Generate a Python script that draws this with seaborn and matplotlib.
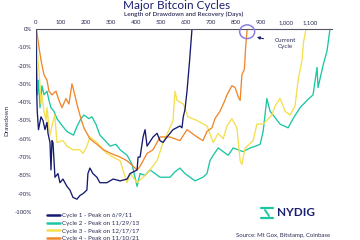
import matplotlib
matplotlib.use("Agg")
import matplotlib.pyplot as plt
import seaborn as sns
import pandas as pd
from matplotlib.lines import Line2D
from matplotlib.patches import Ellipse

# ---- data ----
c1_days = [0, 2, 5, 10, 20, 28, 36, 44, 48, 56, 60, 64, 68, 76, 88, 96, 108, 124, 136, 148, 164, 176,
           188, 204, 208, 216, 228, 244, 256, 284, 309, 337, 365, 377, 405, 409, 417, 429, 437, 445,
           469, 485, 497, 509, 525, 549, 577, 585, 590, 597, 605, 615, 625]
c1_dd = [0, -30, -45, -55, -48, -50, -55, -51, -57, -62, -77, -61, -62, -81, -79, -84, -82, -86, -88, -92, -93, -91,
         -90, -88, -79, -76, -79, -81, -84, -84, -82, -83, -82, -79, -77, -70, -70, -59, -55, -64,
         -59, -57, -61, -62, -59, -55, -53, -54, -48, -44, -34, -18, 0]

c2_days = [0, 3, 6, 10, 16, 24, 32, 44, 52, 60, 72, 84, 100, 112, 124, 150, 165, 180, 192, 212, 224, 240,
           256, 270, 297, 320, 337, 365, 385, 405, 417, 437, 457, 477, 497, 537, 557, 577, 597, 617, 637,
           669, 685, 697, 710, 730, 750, 770, 790, 810, 830, 858, 880, 898, 910, 925, 938, 950, 978,
           1010, 1030, 1058, 1086, 1110, 1126, 1130, 1150, 1166, 1178]
c2_dd = [0, -20, -36, -28, -43, -31, -36, -34, -39, -43, -45, -49, -52, -54, -56, -58, -53, -49, -47, -49, -48, -52,
         -58, -60, -64, -63, -66, -69, -74, -86, -79, -80, -77, -79, -81, -81, -78, -76, -79, -81, -83,
         -81, -79, -72, -69, -65, -67, -69, -65, -66, -67, -65, -64, -63, -56, -38, -45, -47, -52,
         -54, -49, -43, -39, -36, -21, -32, -20, -12, 0]

c3_days = [0, 3, 8, 12, 16, 20, 24, 32, 40, 44, 52, 56, 64, 75, 84, 108, 124, 148, 176, 188, 204, 216,
           244, 284, 309, 337, 365, 377, 389, 405, 445, 485, 509, 530, 549, 557, 565, 590, 609, 645,
           685, 710, 730, 750, 765, 785, 805, 818, 825, 838, 870, 885, 910, 945, 958, 978, 998, 1018,
           1038, 1050, 1066, 1072, 1082]
c3_dd = [0, -7, -17, -23, -31, -41, -36, -45, -50, -43, -54, -58, -53, -47, -62, -61, -64, -66, -66, -68, -64, -59,
         -62, -68, -70, -72, -84, -79, -81, -84, -79, -72, -62, -56, -50, -34, -39, -41, -48, -50,
         -53, -62, -57, -60, -53, -49, -54, -72, -74, -65, -61, -52, -52, -47, -42, -38, -45, -47,
         -42, -28, -17, -7, 0]

c4_days = [0, 3, 12, 20, 32, 44, 52, 64, 80, 92, 104, 120, 132, 144, 152, 164, 180, 192, 216, 244, 270,
           300, 337, 365, 389, 405, 417, 445, 469, 497, 537, 577, 605, 645, 669, 685, 705, 717, 737,
           757, 765, 785, 798, 810, 818, 825, 835, 840, 846]
c4_dd = [0, -1, -10, -17, -25, -28, -34, -36, -34, -39, -43, -38, -41, -30, -34, -41, -49, -54, -60, -63, -66,
         -68, -70, -72, -75, -77, -75, -68, -66, -59, -59, -61, -55, -59, -61, -56, -54, -49, -45,
         -39, -36, -31, -32, -37, -39, -25, -22, -10, 0]

labels = ["Cycle 1 - Peak on 6/9/11", "Cycle 2 - Peak on 11/29/13",
          "Cycle 3 - Peak on 12/17/17", "Cycle 4 - Peak on 11/10/21"]
x_ticks = list(range(0, 1200, 100))
x_ticklabels = ["0", "100", "200", "300", "400", "500", "600", "700", "800", "900", "1,000", "1,100"]
y_ticks = list(range(0, -101, -10))

colors = ["#151a6e", "#1cc6a3", "#f5df4d", "#f0872a"]
navy = "#1b1f6e"

frames = []
for lab, d, v in zip(labels, [c1_days, c2_days, c3_days, c4_days], [c1_dd, c2_dd, c3_dd, c4_dd]):
    frames.append(pd.DataFrame({"day": d, "dd": v, "cycle": lab}))
df = pd.concat(frames, ignore_index=True)

sns.set_theme(style="white")
plt.rcParams["font.family"] = ["Lato", "DejaVu Sans"]

fig = plt.figure(figsize=(3.6, 2.4), dpi=100)
ax = fig.add_axes([36/360, 1 - 212/240, (332-36)/360, (212-29)/240])

order = [1, 2, 3, 0]
for i in order:
    sub = df[df["cycle"] == labels[i]]
    sns.lineplot(data=sub, x="day", y="dd", ax=ax, color=colors[i], linewidth=0.95,
                 estimator=None, sort=False, legend=False)

ax.set_xlim(0, 1186)
ax.set_ylim(-100, 0)
ax.xaxis.tick_top()
ax.xaxis.set_label_position("top")
ax.set_xticks(x_ticks)
ax.set_xticklabels(x_ticklabels)
ax.set_yticks(y_ticks)
ax.set_yticklabels([f"{v}%" for v in y_ticks])
ax.tick_params(axis="both", length=0, labelsize=4.3, colors="#2a2d55", pad=3)
ax.set_xlabel("Length of Drawdown and Recovery (Days)", fontsize=4.6, color="#2a2d55",
              fontweight="semibold", labelpad=3)
ax.set_ylabel("Drawdown", fontsize=4.6, color="#2a2d55", labelpad=4)
for s in ["left", "right", "bottom"]:
    ax.spines[s].set_visible(False)
ax.spines["top"].set_color("#555566")
ax.spines["top"].set_linewidth(0.8)

# current cycle annotation
ax.add_patch(Ellipse((846, -1.5), 60, 7.5, fill=False, edgecolor="#8a7fe0", linewidth=1.1,
                     clip_on=False, zorder=5))
ax.annotate("Current\nCycle", xy=(885, -4.5), xytext=(1000, -8), fontsize=4.5, color="#2a2d55",
            ha="center", va="center", linespacing=1.4,
            arrowprops=dict(arrowstyle="-|>", color=navy, lw=0.8, mutation_scale=4,
                            shrinkA=6, shrinkB=0))

# legend
handles = [Line2D([0], [0], color=c, lw=1.8) for c in colors]
fig.legend(handles, labels, loc="upper left", bbox_to_anchor=(44/360, 1 - 210/240),
           frameon=False, fontsize=4.5, handlelength=2.0, handletextpad=0.45,
           labelspacing=0.35, borderpad=0, labelcolor="#2a2d55")

# title (at very top edge)
fig.text(0.49, 1.0, "Major Bitcoin Cycles", ha="center", va="top",
         fontsize=8.5, color=navy)

# NYDIG logo
teal = "#1cc6a3"
fig.add_artist(Line2D([261/360, 273/360], [1-208/240, 1-208/240], color=teal, lw=1.6))
fig.add_artist(Line2D([261/360, 273/360], [1-218/240, 1-218/240], color=teal, lw=1.6))
fig.add_artist(Line2D([265/360, 269/360], [1-210/240, 1-216/240], color=teal, lw=1.4))
fig.text(277/360, 1-213/240, "NYDIG", ha="left", va="center", fontsize=8.5,
         fontweight="bold", color=navy)
fig.text(283/360, 1-236/240, "Source: Mt Gox, Bitstamp, Coinbase", ha="center", va="center",
         fontsize=4.3, color="#2a2d55")

fig.savefig("out.png", dpi=100)
